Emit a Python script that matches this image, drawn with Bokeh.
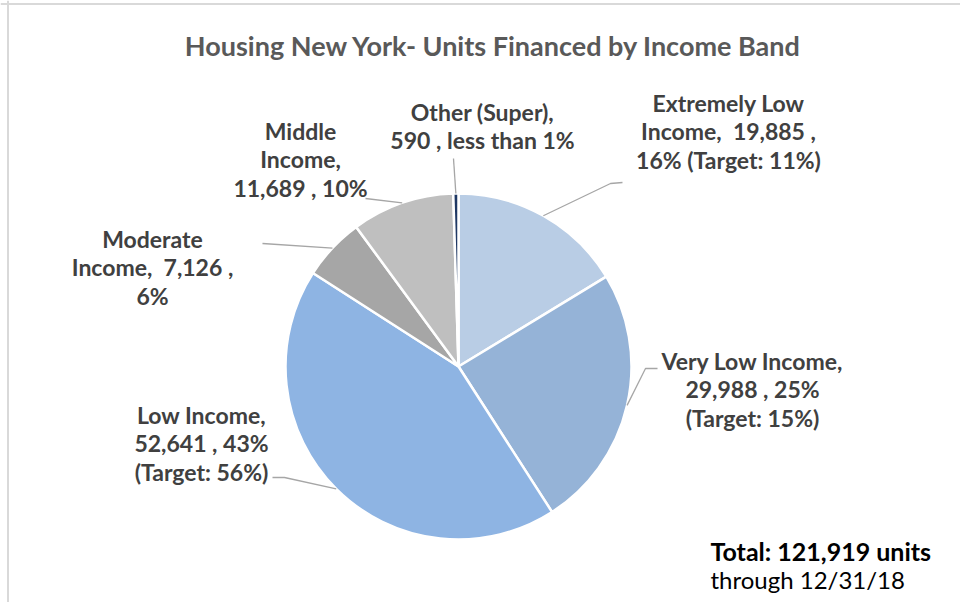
import math
from bokeh.plotting import figure
from bokeh.models import ColumnDataSource, Span
from bokeh.core.properties import value
from bokeh.embed import file_html
from bokeh.resources import INLINE

# ---- data ----
categories = ["Extremely Low Income", "Very Low Income", "Low Income",
              "Moderate Income", "Middle Income", "Other (Super)"]
units = [19885, 29988, 52641, 7126, 11689, 590]
targets = ["11%", "15%", "56%", None, None, None]
colors = ["#B9CDE5", "#95B3D7", "#8EB4E3", "#A6A6A6", "#BFBFBF", "#1F3864"]
label_lines = [
    ["Extremely Low", "Income,\u00a0 19,885 ,", "16% (Target: 11%)"],
    ["Very Low Income,", "29,988 , 25%", "(Target: 15%)"],
    ["Low Income,", "52,641 , 43%", "(Target: 56%)"],
    ["Moderate", "Income,\u00a0 7,126 ,", "6%"],
    ["Middle", "Income,", "11,689 , 10%"],
    ["Other (Super),", "590 , less than 1%"],
]
total_units = sum(units)

# ---- layout (pixel-like coordinates, y up) ----
W, H = 960, 602
def X(px): return px
def Y(py): return H - py

cx, cy, R = X(458), Y(366), 173
# label block centres (first line) and leader elbow points
label_pos = [(728, 102), (752, 360), (201, 414), (152, 238), (300, 130), (482, 111)]
elbows = [[(610, 183), (622, 182)],
          [(645, 368), (657, 368)],
          [(284, 477), (272, 477)],
          [(262, 243)],
          [(365, 198)],
          [(453, 158)]]
line_gap = 28.7

p = figure(width=W, height=H, x_range=(0, W), y_range=(0, H),
           output_backend="svg", toolbar_location=None, min_border=0,
           outline_line_color=None, background_fill_color="white")
p.axis.visible = False
p.grid.visible = False

# wedges
starts, ends, mids = [], [], []
cum = 0
for u in units:
    a0 = math.pi / 2 - 2 * math.pi * cum / total_units
    cum += u
    a1 = math.pi / 2 - 2 * math.pi * cum / total_units
    starts.append(a0); ends.append(a1); mids.append((a0 + a1) / 2)

src = ColumnDataSource(dict(start=starts, end=ends, color=colors, name=categories))
p.wedge(x=cx, y=cy, radius=R, start_angle="start", end_angle="end",
        direction="clock", fill_color="color", line_color="white",
        line_width=2.5, source=src)

# leader lines
for i, m in enumerate(mids):
    ex = cx + R * math.cos(m)
    ey = cy + R * math.sin(m)
    xs = [ex] + [X(a) for a, b in elbows[i]]
    ys = [ey] + [Y(b) for a, b in elbows[i]]
    p.line(xs, ys, line_color="#A6A6A6", line_width=1.3)

# labels
tx, ty, tt = [], [], []
for i, lines in enumerate(label_lines):
    lx, ly = label_pos[i]
    for k, s in enumerate(lines):
        tx.append(X(lx)); ty.append(Y(ly + k * line_gap)); tt.append(s)
p.text(x=tx, y=ty, text=tt, text_align="center", text_baseline="middle",
       text_font=value("Lato"), text_font_style="bold",
       text_font_size="23px", text_color="#404040")

# title
p.text(x=[X(493)], y=[Y(45)], text=["Housing New York- Units Financed by Income Band"],
       text_align="center", text_baseline="middle", text_font=value("Lato"),
       text_font_style="bold", text_font_size="27px", text_color="#595959")

# total note
p.text(x=[X(710)], y=[Y(550)], text=[f"Total: {total_units:,} units"],
       text_align="left", text_baseline="middle", text_font=value("Lato"),
       text_font_style="bold", text_font_size="25px", text_color="#000000")
p.text(x=[X(710)], y=[Y(579)], text=["through 12/31/18"],
       text_align="left", text_baseline="middle", text_font=value("Lato"),
       text_font_size="24px", text_color="#000000")

# chart border (top / left)
p.add_layout(Span(location=7.5, dimension="height", line_color="#D9D9D9", line_width=2))
p.add_layout(Span(location=H - 3.5, dimension="width", line_color="#D9D9D9", line_width=2))

open("out.html", "w").write(file_html(p, INLINE))
